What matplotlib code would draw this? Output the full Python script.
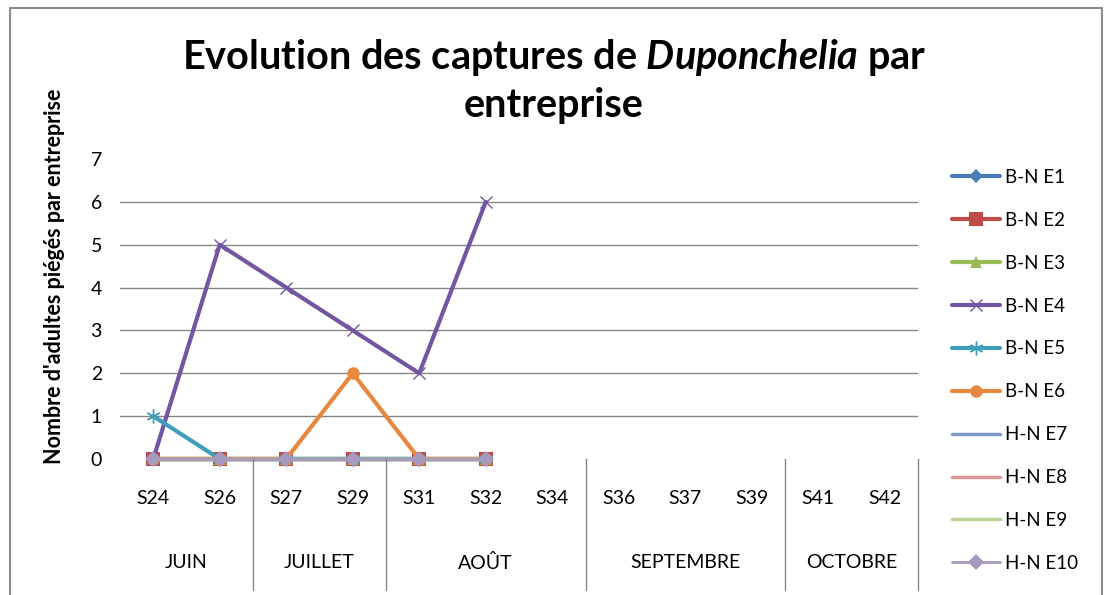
import numpy as np
import matplotlib
matplotlib.use("Agg")
import matplotlib.pyplot as plt
from matplotlib.patches import Rectangle

plt.rcParams['font.family'] = ['Lato', 'DejaVu Sans']
plt.rcParams['mathtext.fontset'] = 'custom'
plt.rcParams['mathtext.it'] = 'Lato:italic:bold'
plt.rcParams['mathtext.rm'] = 'Lato:bold'

# data
weeks = ["S24", "S26", "S27", "S29", "S31", "S32", "S34", "S36", "S37", "S39", "S41", "S42"]
months = ["JUIN", "JUILLET", "AOÛT", "SEPTEMBRE", "OCTOBRE"]
month_span = [2, 2, 3, 3, 2]

bn_e1 = [0, 0, 0, 0, 0, 0, None, None, None, None, None, None]
bn_e2 = [0, 0, 0, 0, 0, 0, None, None, None, None, None, None]
bn_e3 = [0, 0, 0, 0, 0, 0, None, None, None, None, None, None]
bn_e4 = [0, 5, 4, 3, 2, 6, None, None, None, None, None, None]
bn_e5 = [1, 0, 0, 0, 0, 0, None, None, None, None, None, None]
bn_e6 = [0, 0, 0, 2, 0, 0, None, None, None, None, None, None]
hn_e7 = [0, 0, 0, 0, 0, 0, None, None, None, None, None, None]
hn_e8 = [0, 0, 0, 0, 0, 0, None, None, None, None, None, None]
hn_e9 = [0, 0, 0, 0, 0, 0, None, None, None, None, None, None]
hn_e10 = [0, 0, 0, 0, 0, 0, None, None, None, None, None, None]

series = [
    ("B-N E1", bn_e1, "#4a7ebb", "D", 7, 3.0),
    ("B-N E2", bn_e2, "#be4b48", "s", 10, 3.0),
    ("B-N E3", bn_e3, "#98b954", "^", 8, 3.0),
    ("B-N E4", bn_e4, "#7356a0", "x", 9, 3.0),
    ("B-N E5", bn_e5, "#3f9fba", (6, 2, 0), 10, 3.0),
    ("B-N E6", bn_e6, "#e8873e", "o", 9, 3.0),
    ("H-N E7", hn_e7, "#7e9bc8", None, 0, 2.5),
    ("H-N E8", hn_e8, "#d99795", None, 0, 2.5),
    ("H-N E9", hn_e9, "#b9d195", None, 0, 2.5),
    ("H-N E10", hn_e10, "#a599bd", "D", 8, 2.0),
]

W, H = 1111, 595
fig = plt.figure(figsize=(W / 100, H / 100), dpi=100)

# plot area in pixels
left, right, top, bottom = 120, 918, 159, 459
ax = fig.add_axes([left / W, 1 - bottom / H, (right - left) / W, (bottom - top) / H])

x = np.arange(len(weeks))
for name, vals, color, marker, ms, lw in series:
    y = np.array([np.nan if v is None else v for v in vals], dtype=float)
    mew = 1.0 if marker in ("x", (6, 2, 0)) else 0
    ax.plot(x, y, color=color, lw=lw, marker=marker, markersize=ms,
            markeredgewidth=mew, markeredgecolor=color, label=name,
            clip_on=False, solid_capstyle="round")

ax.set_xlim(-0.5, len(weeks) - 0.5)
ax.set_ylim(0, 7)
ax.set_yticks(range(8))
ax.tick_params(axis="y", length=0, pad=13, labelsize=14)
ax.set_xticks(x)
ax.set_xticklabels(weeks)
ax.tick_params(axis="x", length=0, pad=22, labelsize=14)
for s in ax.spines.values():
    s.set_visible(False)

ax.yaxis.grid(True, color="#868686", lw=1.0)
ax.set_axisbelow(True)
gl = ax.get_ygridlines()
gl[0].set_visible(False)
gl[-1].set_visible(False)

# month level of the category axis
trans = ax.get_xaxis_transform()
y_month = (bottom - 563) / (bottom - top)
y_sep = (bottom - 590) / (bottom - top)
start = 0
for m, n in zip(months, month_span):
    ax.text(start + (n - 1) / 2, y_month, m, transform=trans, ha="center",
            va="center", fontsize=14)
    end = start + n - 0.5
    ax.plot([end, end], [0, y_sep], transform=trans, color="#868686", lw=1.0,
            clip_on=False)
    start += n

# title
fig.text(554 / W, 1 - 58 / H, "Evolution des captures de $\\mathit{Duponchelia}$ par",
         ha="center", va="center", fontsize=28.5, fontweight="bold")
fig.text(554 / W, 1 - 105 / H, "entreprise",
         ha="center", va="center", fontsize=28.5, fontweight="bold")

fig.text(55 / W, 1 - 276 / H, "Nombre d'adultes piégés par entreprise",
         rotation=90, ha="center", va="center", fontsize=15.5, fontweight="bold")

ax.legend(loc="upper left", bbox_to_anchor=(952 / W, 1 - 169 / H),
          bbox_transform=fig.transFigure, frameon=False, fontsize=13.5,
          labelspacing=1.38, handlelength=2.56, handletextpad=0.27,
          borderaxespad=0, borderpad=0)

fig.patches.append(Rectangle((10 / W, -0.1), (1102 - 10) / W, 1.1 - 8 / H,
                             transform=fig.transFigure, fill=False,
                             edgecolor="#8c8c8c", lw=1.5))

fig.savefig("out.png", dpi=100)
